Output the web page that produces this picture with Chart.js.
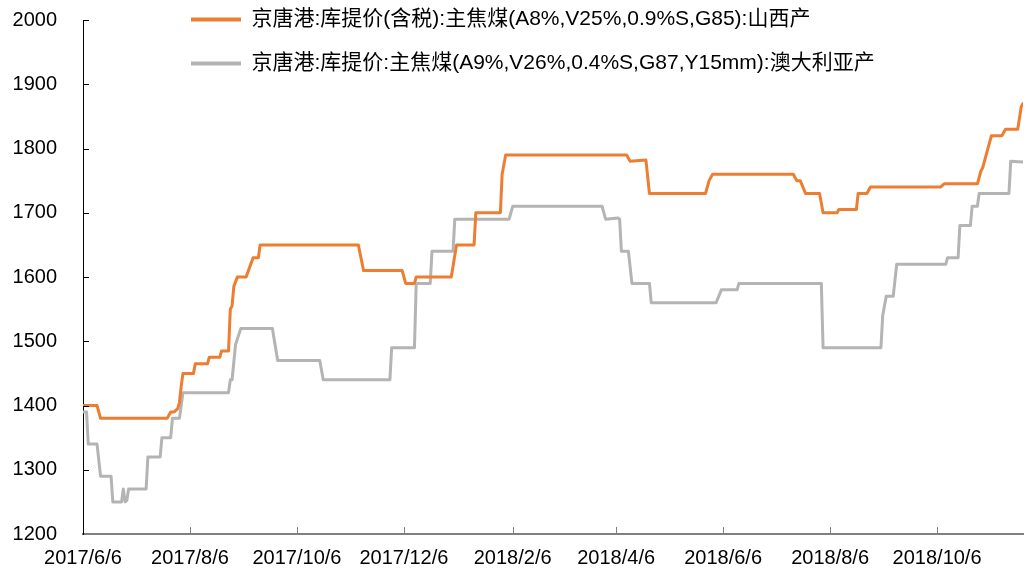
<!DOCTYPE html>
<html>
<head>
<meta charset="utf-8">
<script src="https://cdn.jsdelivr.net/npm/chart.js@4.4.1/dist/chart.umd.min.js"></script>
<style>
html,body{margin:0;padding:0;background:#fff;}
#wrap{width:1027px;height:569px;position:relative;}
</style>
</head>
<body>
<div id="wrap"><canvas id="c"></canvas></div>
<script>
const seriesNames = [
  '京唐港:库提价(含税):主焦煤(A8%,V25%,0.9%S,G85):山西产',
  '京唐港:库提价:主焦煤(A9%,V26%,0.4%S,G87,Y15mm):澳大利亚产'
];
const seriesColors = ['#ED7D31', '#B4B4B4'];

const tickLabels = ['2017/6/6','2017/8/6','2017/10/6','2017/12/6','2018/2/6','2018/4/6','2018/6/6','2018/8/6','2018/10/6'];
const axisStart = '2017/6/6';
const axisEnd = '2018/11/24';
const yMin = 1200, yMax = 2000, yStep = 100;

const shanxiDates = [
  '2017-06-06','2017-06-14','2017-06-16','2017-07-24','2017-07-26','2017-07-28','2017-07-30','2017-07-31',
  '2017-08-01','2017-08-02','2017-08-08','2017-08-09','2017-08-16','2017-08-17','2017-08-23','2017-08-24',
  '2017-08-28','2017-08-29','2017-08-30','2017-08-31','2017-09-02','2017-09-07','2017-09-09','2017-09-11',
  '2017-09-14','2017-09-15','2017-11-10','2017-11-13','2017-12-05','2017-12-07','2017-12-12','2017-12-13',
  '2018-01-02','2018-01-05','2018-01-15','2018-01-16','2018-01-30','2018-01-31','2018-02-02','2018-04-12',
  '2018-04-14','2018-04-23','2018-04-25','2018-05-27','2018-05-29','2018-05-31','2018-07-16','2018-07-18',
  '2018-07-20','2018-07-23','2018-07-31','2018-08-02','2018-08-10','2018-08-11','2018-08-21','2018-08-22',
  '2018-08-27','2018-08-29','2018-10-08','2018-10-10','2018-10-29','2018-10-31','2018-11-01','2018-11-03',
  '2018-11-06','2018-11-12','2018-11-14','2018-11-21','2018-11-23','2018-11-24'
];
const shanxiValues = [
  1400,1400,1380,1380,1390,1390,1395,1405,
  1430,1450,1450,1465,1465,1475,1475,1485,
  1485,1550,1555,1585,1600,1600,1615,1630,
  1630,1650,1650,1610,1610,1590,1590,1600,
  1600,1650,1650,1700,1700,1760,1790,1790,
  1780,1782,1730,1730,1750,1760,1760,1750,
  1750,1730,1730,1700,1700,1705,1705,1730,
  1730,1740,1740,1745,1745,1765,1770,1790,
  1820,1820,1830,1830,1865,1870
];

const australiaDates = [
  '2017-06-06','2017-06-08','2017-06-09','2017-06-14','2017-06-16','2017-06-22','2017-06-23','2017-06-28',
  '2017-06-29','2017-06-30','2017-07-01','2017-07-02','2017-07-12','2017-07-13','2017-07-20','2017-07-21',
  '2017-07-26','2017-07-27','2017-07-31','2017-08-02','2017-08-28','2017-08-29','2017-08-30','2017-09-01',
  '2017-09-04','2017-09-22','2017-09-25','2017-10-19','2017-10-21','2017-11-28','2017-11-29','2017-12-12',
  '2017-12-13','2017-12-21','2017-12-22','2018-01-03','2018-01-04','2018-02-04','2018-02-06','2018-03-29',
  '2018-03-31','2018-04-07','2018-04-08','2018-04-09','2018-04-13','2018-04-15','2018-04-25','2018-04-26',
  '2018-06-02','2018-06-05','2018-06-14','2018-06-15','2018-08-01','2018-08-02','2018-09-04','2018-09-05',
  '2018-09-07','2018-09-11','2018-09-13','2018-10-11','2018-10-12','2018-10-18','2018-10-19','2018-10-25',
  '2018-10-26','2018-10-29','2018-10-30','2018-11-16','2018-11-17','2018-11-24'
];
const australiaValues = [
  1390,1390,1340,1340,1290,1290,1250,1250,
  1270,1250,1252,1270,1270,1320,1320,1350,
  1350,1380,1380,1420,1420,1440,1440,1495,
  1520,1520,1470,1470,1440,1440,1490,1490,
  1590,1590,1640,1640,1690,1690,1710,1710,
  1690,1692,1690,1640,1640,1590,1590,1560,
  1560,1580,1580,1590,1590,1490,1490,1540,
  1570,1570,1620,1620,1630,1630,1680,1680,
  1710,1710,1730,1730,1780,1779
];

function dayOf(s) {
  const p = s.split(/[-\/]/).map(Number);
  const b = axisStart.split('/').map(Number);
  return Math.round((Date.UTC(p[0], p[1]-1, p[2]) - Date.UTC(b[0], b[1]-1, b[2])) / 86400000);
}
const tickDays = tickLabels.map(dayOf);

function toPoints(dates, values) {
  return dates.map((d, i) => ({x: dayOf(d), y: values[i]}));
}

Chart.defaults.font.family = "'Liberation Sans', Arial, 'Noto Sans CJK SC', sans-serif";
Chart.defaults.font.size = 20;
Chart.defaults.color = '#000';

const innerTicks = {
  id: 'innerTicks',
  afterDraw(chart) {
    const {ctx, chartArea: a} = chart;
    const x = chart.scales.x, y = chart.scales.y;
    ctx.save();
    ctx.lineWidth = 1;
    ctx.strokeStyle = '#000';
    y.ticks.forEach(t => {
      if (t.value === yMin) return;
      const py = Math.round(y.getPixelForValue(t.value)) + 0.5;
      ctx.beginPath(); ctx.moveTo(a.left, py); ctx.lineTo(a.left + 6, py); ctx.stroke();
    });
    ctx.strokeStyle = '#808080';
    x.ticks.forEach(t => {
      if (t.value === 0) return;
      const px = Math.round(x.getPixelForValue(t.value)) + 0.5;
      ctx.beginPath(); ctx.moveTo(px, a.bottom); ctx.lineTo(px, a.bottom - 7); ctx.stroke();
    });
    ctx.restore();
  }
};

const legendShift = {
  id: 'legendShift',
  afterLayout(chart) {
    const l = chart.legend;
    if (l) { l.left = 168; l.top = -14; }
  }
};

new Chart(document.getElementById('c'), {
  type: 'line',
  data: {
    datasets: [
      {label: seriesNames[0], data: toPoints(shanxiDates, shanxiValues), borderColor: seriesColors[0], backgroundColor: seriesColors[0]},
      {label: seriesNames[1], data: toPoints(australiaDates, australiaValues), borderColor: seriesColors[1], backgroundColor: seriesColors[1]}
    ]
  },
  options: {
    responsive: true,
    maintainAspectRatio: false,
    animation: false,
    events: [],
    layout: {padding: {top: 20, right: 4, left: 0, bottom: 0}},
    elements: {
      line: {borderWidth: 3, tension: 0, borderJoinStyle: 'round', borderCapStyle: 'round'},
      point: {radius: 0}
    },
    scales: {
      x: {
        type: 'linear',
        min: 0,
        max: dayOf(axisEnd),
        grid: {display: false, drawTicks: false},
        border: {display: true, color: '#808080', width: 2},
        afterBuildTicks(s) { s.ticks = tickDays.map(v => ({value: v})); },
        afterFit(s) { s.height = 35; s.paddingTop = 0; s.paddingBottom = 0; },
        ticks: {
          autoSkip: false, maxRotation: 0, padding: 12, color: '#000',
          callback(v) { const i = tickDays.indexOf(v); return i >= 0 ? tickLabels[i] : ''; }
        }
      },
      y: {
        min: yMin, max: yMax,
        grid: {display: false, drawTicks: false},
        border: {display: true, color: '#000', width: 1},
        afterFit(s) { s.width = 83; s.paddingTop = 0; s.paddingBottom = 0; },
        ticks: {stepSize: yStep, padding: 26, color: '#000', callback(v) { return String(v); }}
      }
    },
    plugins: {
      tooltip: {enabled: false},
      legend: {
        position: 'chartArea',
        align: 'start',
        labels: {
          boxWidth: 50, boxHeight: 4, padding: 23, color: '#000',
          font: {size: 21},
          generateLabels(chart) {
            return Chart.defaults.plugins.legend.labels.generateLabels(chart).map(it => {
              it.lineWidth = 0;
              it.fillStyle = chart.data.datasets[it.datasetIndex].borderColor;
              return it;
            });
          }
        }
      }
    }
  },
  plugins: [innerTicks, legendShift]
});
</script>
</body>
</html>
